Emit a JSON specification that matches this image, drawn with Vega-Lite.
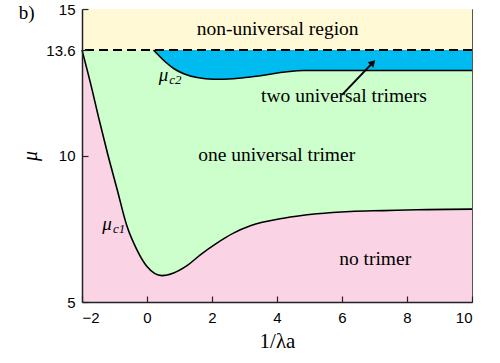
{
  "$schema": "https://vega.github.io/schema/vega-lite/v6.json",
  "width": 390,
  "height": 293,
  "autosize": {"type": "none"},
  "padding": {"left": 82, "top": 9, "right": 28, "bottom": 61},
  "background": "white",
  "config": {
    "view": {"stroke": "#555", "strokeWidth": 1},
    "axis": {
      "grid": false,
      "zindex": 1,
      "labelFont": "Liberation Sans",
      "labelFontSize": 15,
      "labelColor": "black",
      "domainColor": "#222",
      "domainWidth": 1.5,
      "tickColor": "#222",
      "tickWidth": 1.2,
      "tickSize": -6,
      "titleColor": "black",
      "titleFontWeight": "normal"
    }
  },
  "datasets": {
    "c1": [
      {"x": -2, "mu": 13.6}, {"x": -1.69, "mu": 12.25}, {"x": -1.49, "mu": 11.3},
      {"x": -1.21, "mu": 10.05}, {"x": -0.92, "mu": 8.85}, {"x": -0.62, "mu": 7.6},
      {"x": -0.31, "mu": 6.78}, {"x": 0, "mu": 6.21}, {"x": 0.46, "mu": 5.9},
      {"x": 0.82, "mu": 5.99}, {"x": 1.23, "mu": 6.24}, {"x": 1.64, "mu": 6.61},
      {"x": 2.15, "mu": 7.01}, {"x": 2.66, "mu": 7.35}, {"x": 3.18, "mu": 7.6},
      {"x": 4.2, "mu": 7.86}, {"x": 5.23, "mu": 8.01}, {"x": 6.26, "mu": 8.09},
      {"x": 7.28, "mu": 8.12}, {"x": 8.31, "mu": 8.15}, {"x": 10, "mu": 8.17}
    ],
    "c2": [
      {"x": 0.2, "mu": 13.6}, {"x": 0.56, "mu": 13.2}, {"x": 0.82, "mu": 12.97},
      {"x": 1.13, "mu": 12.79}, {"x": 1.54, "mu": 12.66}, {"x": 2.05, "mu": 12.6},
      {"x": 2.66, "mu": 12.62}, {"x": 3.18, "mu": 12.68}, {"x": 4.82, "mu": 12.9},
      {"x": 10, "mu": 12.9}
    ]
  },
  "layer": [
    {
      "data": {"values": [
        {"x": -2, "x2": 10, "y": 5, "y2": 13.6, "region": "green"},
        {"x": -2, "x2": 10, "y": 13.6, "y2": 15, "region": "yellow"}
      ]},
      "mark": {"type": "rect"},
      "encoding": {
        "x": {"field": "x", "type": "quantitative",
              "scale": {"domain": [-2, 10], "nice": false, "zero": false},
              "axis": {"values": [-2, 0, 2, 4, 6, 8, 10], "labelPadding": 14, "zindex": 1,
                       "labelFont": "Liberation Sans", "labelFontSize": 15,
                       "title": "1/λa", "titleFont": "Liberation Serif", "titleFontSize": 21,
                       "titlePadding": 5}},
        "x2": {"field": "x2"},
        "y": {"field": "y", "type": "quantitative",
              "scale": {"domain": [5, 15], "nice": false, "zero": false},
              "axis": {"values": [5, 10, 13.6, 15], "labelExpr": "format(datum.value, '~g')", "labelPadding": 13, "zindex": 1,
                       "labelFont": "Liberation Sans", "labelFontSize": 15,
                       "title": "μ", "titleFont": "Liberation Serif", "titleFontStyle": "italic",
                       "titleFontSize": 20, "titlePadding": 5}},
        "y2": {"field": "y2"},
        "color": {"field": "region", "type": "nominal",
                  "scale": {"domain": ["green", "yellow"], "range": ["#ccffcc", "#fff9d6"]},
                  "legend": null}
      }
    },
    {
      "data": {"name": "c1"},
      "mark": {"type": "area", "color": "#fad4e5", "interpolate": "monotone"},
      "encoding": {
        "x": {"field": "x", "type": "quantitative"},
        "y": {"field": "mu", "type": "quantitative"},
        "y2": {"datum": 5}
      }
    },
    {
      "data": {"name": "c2"},
      "mark": {"type": "area", "color": "#00bbef", "interpolate": "monotone"},
      "encoding": {
        "x": {"field": "x", "type": "quantitative"},
        "y": {"field": "mu", "type": "quantitative"},
        "y2": {"datum": 13.6}
      }
    },
    {
      "data": {"name": "c1"},
      "mark": {"type": "line", "color": "black", "strokeWidth": 1.6, "interpolate": "monotone"},
      "encoding": {
        "x": {"field": "x", "type": "quantitative"},
        "y": {"field": "mu", "type": "quantitative"}
      }
    },
    {
      "data": {"name": "c2"},
      "mark": {"type": "line", "color": "black", "strokeWidth": 1.6, "interpolate": "monotone"},
      "encoding": {
        "x": {"field": "x", "type": "quantitative"},
        "y": {"field": "mu", "type": "quantitative"}
      }
    },
    {
      "data": {"values": [{"level": 13.6}]},
      "mark": {"type": "rule", "color": "black", "strokeWidth": 2, "strokeDash": [9, 5]},
      "encoding": {
        "y": {"field": "level", "type": "quantitative"}
      }
    },
    {
      "data": {"values": [{"x": 6.0, "y": 12.07, "x2": 6.94, "y2": 13.16}]},
      "mark": {"type": "rule", "color": "black", "strokeWidth": 2},
      "encoding": {
        "x": {"field": "x", "type": "quantitative"},
        "y": {"field": "y", "type": "quantitative"},
        "x2": {"field": "x2"},
        "y2": {"field": "y2"}
      }
    },
    {
      "data": {"values": [{"x": 6.95, "y": 13.17}]},
      "mark": {"type": "point", "shape": "triangle-up", "filled": true, "color": "black", "opacity": 1, "size": 60, "angle": 44},
      "encoding": {
        "x": {"field": "x", "type": "quantitative"},
        "y": {"field": "y", "type": "quantitative"}
      }
    },
    {
      "data": {"values": [
        {"x": 4.02, "y": 14.12, "label": "non-universal region"},
        {"x": 6.06, "y": 11.82, "label": "two universal trimers"},
        {"x": 3.99, "y": 9.8, "label": "one universal trimer"},
        {"x": 7.02, "y": 6.27, "label": "no trimer"}
      ]},
      "mark": {"type": "text", "font": "Liberation Serif", "fontSize": 19.5, "align": "center", "baseline": "alphabetic", "color": "black"},
      "encoding": {
        "x": {"field": "x", "type": "quantitative"},
        "y": {"field": "y", "type": "quantitative"},
        "text": {"field": "label"}
      }
    },
    {
      "data": {"values": [
        {"x": 0.655, "y": 12.55, "label": "μ"},
        {"x": -1.08, "y": 7.47, "label": "μ"}
      ]},
      "mark": {"type": "text", "font": "Liberation Serif", "fontStyle": "italic", "fontSize": 19, "align": "right", "baseline": "alphabetic", "color": "black"},
      "encoding": {
        "x": {"field": "x", "type": "quantitative"},
        "y": {"field": "y", "type": "quantitative"},
        "text": {"field": "label"}
      }
    },
    {
      "data": {"values": [
        {"x": 0.655, "y": 12.55, "label": "c2"},
        {"x": -1.08, "y": 7.47, "label": "c1"}
      ]},
      "mark": {"type": "text", "font": "Liberation Serif", "fontStyle": "italic", "fontSize": 13, "align": "left", "baseline": "alphabetic", "dx": 1, "dy": 3, "color": "black"},
      "encoding": {
        "x": {"field": "x", "type": "quantitative"},
        "y": {"field": "y", "type": "quantitative"},
        "text": {"field": "label"}
      }
    },
    {
      "data": {"values": [{"x": -3.7, "y": 14.66, "label": "b)"}]},
      "mark": {"type": "text", "font": "Liberation Serif", "fontSize": 19, "align": "center", "baseline": "alphabetic", "color": "black"},
      "encoding": {
        "x": {"field": "x", "type": "quantitative"},
        "y": {"field": "y", "type": "quantitative"},
        "text": {"field": "label"}
      }
    }
  ]
}
